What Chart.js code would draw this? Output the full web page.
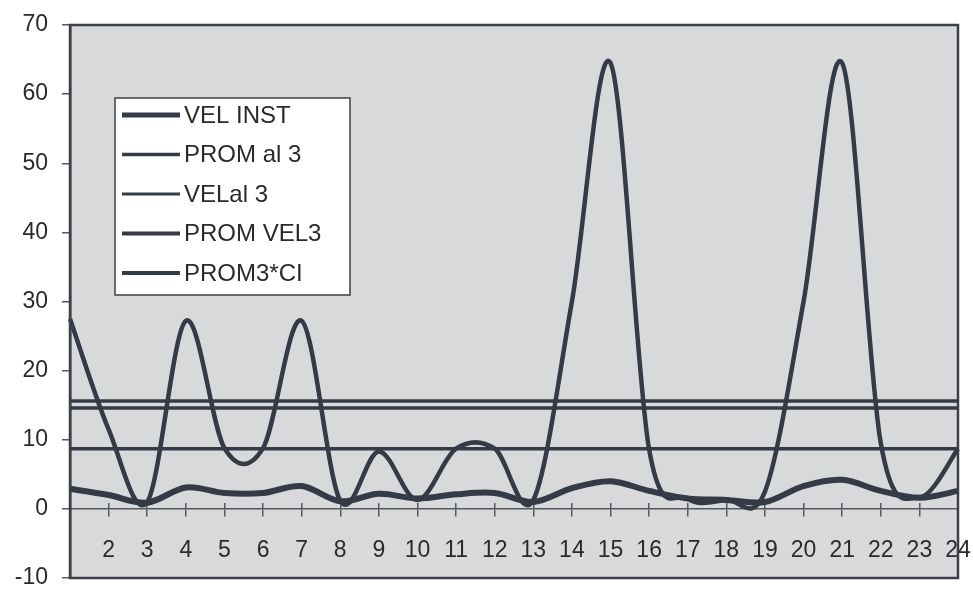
<!DOCTYPE html>
<html>
<head>
<meta charset="utf-8">
<title>VEL INST</title>
<script src="https://cdn.jsdelivr.net/npm/chart.js@4/dist/chart.umd.min.js"></script>
<style>
  html, body { margin: 0; padding: 0; background: #ffffff; }
  canvas { display: block; }
</style>
</head>
<body>
<canvas id="chart" width="973" height="589"></canvas>
<script>
// Hours of the day
const hours = ['1','2','3','4','5','6','7','8','9','10','11','12',
               '13','14','15','16','17','18','19','20','21','22','23','24'];

// Instantaneous speed
const velInst = [2.9, 2.0, 0.9, 3.1, 2.3, 2.3, 3.3, 1.1, 2.2, 1.5, 2.1, 2.3,
                 1.0, 3.0, 4.0, 2.6, 1.5, 1.3, 1.0, 3.3, 4.2, 2.6, 1.6, 2.6];

// Speed cubed
const velAl3 = [27.5, 11.5, 1.0, 27.2, 8.8, 8.8, 27.2, 1.2, 8.3, 1.3, 8.7, 8.7,
                1.3, 30.0, 64.5, 8.6, 1.5, 1.3, 2.5, 30.0, 64.5, 9.5, 1.7, 8.7];

// Averages (flat reference lines)
const promAl3 = [14.6, 14.6, 14.6, 14.6, 14.6, 14.6, 14.6, 14.6, 14.6, 14.6, 14.6, 14.6,
                 14.6, 14.6, 14.6, 14.6, 14.6, 14.6, 14.6, 14.6, 14.6, 14.6, 14.6, 14.6];
const promVel3 = [8.7, 8.7, 8.7, 8.7, 8.7, 8.7, 8.7, 8.7, 8.7, 8.7, 8.7, 8.7,
                  8.7, 8.7, 8.7, 8.7, 8.7, 8.7, 8.7, 8.7, 8.7, 8.7, 8.7, 8.7];
const prom3Ci = [15.6, 15.6, 15.6, 15.6, 15.6, 15.6, 15.6, 15.6, 15.6, 15.6, 15.6, 15.6,
                 15.6, 15.6, 15.6, 15.6, 15.6, 15.6, 15.6, 15.6, 15.6, 15.6, 15.6, 15.6];

// Y axis tick values
const yTicks = [-10, 0, 10, 20, 30, 40, 50, 60, 70];

const INK = '#343a46';
const FONT = "'Liberation Sans', Arial, sans-serif";

// Spreadsheet-style smoothing: Catmull-Rom control points (1/6 of the chord)
const spreadsheetSmooth = {
  id: 'spreadsheetSmooth',
  beforeDatasetDraw(chart, args) {
    const ds = chart.data.datasets[args.index];
    if (!ds.smooth) return;
    const meta = args.meta;
    const pts = meta.data;
    const n = pts.length;
    for (let i = 0; i < n; i++) {
      const p = pts[i];
      const a = pts[Math.max(i - 1, 0)];
      const b = pts[Math.min(i + 1, n - 1)];
      const dx = (b.x - a.x) / 6;
      const dy = (b.y - a.y) / 6;
      p.cp1x = p.x - dx; p.cp1y = p.y - dy;
      p.cp2x = p.x + dx; p.cp2y = p.y + dy;
    }
    meta.dataset._pointsUpdated = true;
  }
};

// Grey plot area with a dark frame
const plotBackground = {
  id: 'plotBackground',
  beforeDraw(chart) {
    const { ctx, chartArea: a } = chart;
    ctx.save();
    ctx.fillStyle = '#d8d9db';
    ctx.fillRect(a.left, a.top, a.right - a.left, a.bottom - a.top);
    ctx.restore();
  },
  afterDraw(chart) {
    const { ctx, chartArea: a } = chart;
    ctx.save();
    ctx.strokeStyle = '#3c3f45';
    ctx.lineWidth = 2.5;
    ctx.strokeRect(a.left, a.top, a.right - a.left, a.bottom - a.top);
    ctx.restore();
  }
};

// Boxed legend inside the plot area
const boxedLegend = {
  id: 'boxedLegend',
  afterDraw(chart) {
    const { ctx, chartArea: a } = chart;
    const x = a.left + 45, y = a.top + 73, w = 235, h = 197;
    ctx.save();
    ctx.fillStyle = '#ffffff';
    ctx.fillRect(x, y, w, h);
    ctx.strokeStyle = '#3c3f45';
    ctx.lineWidth = 1.5;
    ctx.strokeRect(x, y, w, h);
    ctx.font = '24px ' + FONT;
    ctx.textBaseline = 'middle';
    ctx.textAlign = 'left';
    chart.data.datasets.forEach((ds, i) => {
      const cy = y + 17 + i * 39.5;
      ctx.strokeStyle = ds.borderColor;
      ctx.lineWidth = ds.legendWidth;
      ctx.beginPath();
      ctx.moveTo(x + 7, cy);
      ctx.lineTo(x + 65, cy);
      ctx.stroke();
      ctx.fillStyle = '#2a2a2a';
      ctx.fillText(ds.label, x + 69, cy + 1);
    });
    ctx.restore();
  }
};

// Keep tick labels from shrinking the plot area
const noEdgePadding = (s) => {
  s.paddingLeft = 0; s.paddingRight = 0; s.paddingTop = 0; s.paddingBottom = 0;
};

const baseLine = { fill: false, pointRadius: 0, pointHoverRadius: 0, borderColor: INK };

new Chart(document.getElementById('chart'), {
  type: 'line',
  data: {
    labels: hours,
    datasets: [
      { ...baseLine, label: 'VEL INST', data: velInst, borderWidth: 6, legendWidth: 5, tension: 0.3, smooth: true },
      { ...baseLine, label: 'PROM al 3', data: promAl3, borderWidth: 3.5, legendWidth: 3.5, tension: 0 },
      { ...baseLine, label: 'VELal 3', data: velAl3, borderWidth: 4.5, legendWidth: 3, tension: 0.3, smooth: true },
      { ...baseLine, label: 'PROM VEL3', data: promVel3, borderWidth: 3.5, legendWidth: 4, tension: 0 },
      { ...baseLine, label: 'PROM3*CI', data: prom3Ci, borderWidth: 3.5, legendWidth: 4, tension: 0 }
    ]
  },
  options: {
    responsive: false,
    animation: false,
    events: [],
    layout: { padding: { left: 0, top: 25, right: 15, bottom: 11 } },
    plugins: {
      legend: { display: false },
      tooltip: { enabled: false },
      title: { display: false }
    },
    scales: {
      x: {
        type: 'category',
        position: { y: 0 },
        offset: false,
        afterFit: noEdgePadding,
        border: { display: true, color: '#55585e', width: 1.5 },
        grid: { drawOnChartArea: false, drawTicks: true, tickLength: 7, color: '#55585e', lineWidth: 1.5 },
        ticks: {
          autoSkip: false,
          maxRotation: 0,
          padding: 21,
          color: '#2a2a2a',
          font: { family: FONT, size: 23 },
          callback: (v, i) => (i === 0 ? '' : hours[i])
        }
      },
      xUp: {
        type: 'category',
        axis: 'x',
        position: { y: 0 },
        offset: false,
        afterFit: noEdgePadding,
        border: { display: false },
        grid: { drawOnChartArea: false, drawTicks: true, tickLength: -6, color: '#55585e', lineWidth: 1.5 },
        ticks: { display: false, autoSkip: false }
      },
      y: {
        type: 'linear',
        min: -10,
        max: 70,
        afterBuildTicks: (s) => { s.ticks = yTicks.map(v => ({ value: v })); },
        afterFit: (s) => { s.width = 70; noEdgePadding(s); },
        border: { display: true, color: '#3c3f45', width: 2.5 },
        grid: { drawOnChartArea: false, drawTicks: true, tickLength: 8, color: '#55585e', lineWidth: 1.5 },
        ticks: {
          padding: 14,
          color: '#2a2a2a',
          font: { family: FONT, size: 23 }
        }
      }
    }
  },
  plugins: [plotBackground, spreadsheetSmooth, boxedLegend]
});
</script>
</body>
</html>
